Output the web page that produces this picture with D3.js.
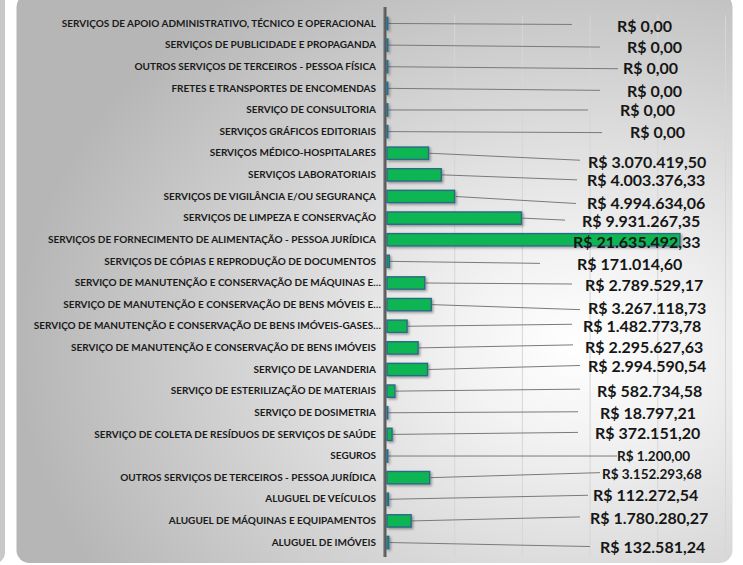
<!DOCTYPE html>
<html>
<head>
<meta charset="utf-8">
<script src="https://cdn.jsdelivr.net/npm/d3@7"></script>
<style>
	body { margin: 0; background: #fff; }
	svg { display: block; }
</style>
</head>
<body>
<svg id="chart" width="743" height="565"></svg>
<script>
var categories = [
	"SERVIÇOS DE APOIO ADMINISTRATIVO, TÉCNICO E OPERACIONAL",
	"SERVIÇOS DE PUBLICIDADE E PROPAGANDA",
	"OUTROS SERVIÇOS DE TERCEIROS - PESSOA FÍSICA",
	"FRETES E TRANSPORTES DE ENCOMENDAS",
	"SERVIÇO DE CONSULTORIA",
	"SERVIÇOS GRÁFICOS EDITORIAIS",
	"SERVIÇOS MÉDICO-HOSPITALARES",
	"SERVIÇOS LABORATORIAIS",
	"SERVIÇOS DE VIGILÂNCIA E/OU SEGURANÇA",
	"SERVIÇOS DE LIMPEZA E CONSERVAÇÃO",
	"SERVIÇOS DE FORNECIMENTO DE ALIMENTAÇÃO - PESSOA JURÍDICA",
	"SERVIÇOS DE CÓPIAS E REPRODUÇÃO DE DOCUMENTOS",
	"SERVIÇO DE MANUTENÇÃO E CONSERVAÇÃO DE MÁQUINAS E…",
	"SERVIÇO DE MANUTENÇÃO E CONSERVAÇÃO DE BENS MÓVEIS E…",
	"SERVIÇO DE MANUTENÇÃO E CONSERVAÇÃO DE BENS IMÓVEIS-GASES…",
	"SERVIÇO DE MANUTENÇÃO E CONSERVAÇÃO DE BENS IMÓVEIS",
	"SERVIÇO DE LAVANDERIA",
	"SERVIÇO DE ESTERILIZAÇÃO DE MATERIAIS",
	"SERVIÇO DE DOSIMETRIA",
	"SERVIÇO DE COLETA DE RESÍDUOS DE SERVIÇOS DE SAÚDE",
	"SEGUROS",
	"OUTROS SERVIÇOS DE TERCEIROS - PESSOA JURÍDICA",
	"ALUGUEL DE VEÍCULOS",
	"ALUGUEL DE MÁQUINAS E EQUIPAMENTOS",
	"ALUGUEL DE IMÓVEIS"
]

var values = [
	0, 0, 0, 0, 0, 0,
	3070419.50, 4003376.33, 4994634.06, 9931267.35, 21635492.33,
	171014.60, 2789529.17, 3267118.73, 1482773.78, 2295627.63,
	2994590.54, 582734.58, 18797.21, 372151.20, 1200.00,
	3152293.68, 112272.54, 1780280.27, 132581.24
]

var gridTicks = [5000000, 10000000, 15000000, 20000000, 25000000]

// where each data label was dragged to: [left x, dy of text, leader end x, dy of leader end]
var labelLayout = [
	[617, 3, 572, 1], [627, 2, 600, 2], [623, 2, 618, 2], [627, 3, 600, 2],
	[620, 0, 588, 0], [630, 1, 602, 1], [588, 9, 580, 7], [587, 5, 577, 5],
	[587, 7, 576, 7], [582, 3, 565, 2], [573, 2, null, 0], [577, 3, 540, 2],
	[585, 2, 572, 1], [588, 4, 580, 5], [583, 0, 572, -2], [585, -1, 573, -3],
	[588, -3, 580, -4], [597, 0, 580, -2], [600, 0, 578, -1], [595, -1, 578, -2],
	[617, 0, 617, 0], [602, -4, 600, -5], [593, -4, 588, -4], [590, -3, 580, -4],
	[600, 5, 590, 4]
]
var smallLabels = [20, 21]

var rows = categories.map((c, i) => ({
	cat: c,
	value: values[i],
	lay: labelLayout[i],
	small: smallLabels.includes(i)
}))

var svg = d3.select("#chart")
var defs = svg.append("defs")

var bg = defs.append("radialGradient")
	.attr("id", "bg")
	.attr("cx", 0.78).attr("cy", 0.62).attr("r", 0.78)
bg.append("stop").attr("offset", 0).attr("stop-color", "#ffffff")
bg.append("stop").attr("offset", 0.2).attr("stop-color", "#f3f3f3")
bg.append("stop").attr("offset", 0.65).attr("stop-color", "#d0d0d0")
bg.append("stop").attr("offset", 1).attr("stop-color", "#b6b6b6")

var shadow = defs.append("filter").attr("id", "shadow")
	.attr("x", "-10%").attr("y", "-30%").attr("width", "130%").attr("height", "180%")
shadow.append("feDropShadow")
	.attr("dx", 1.5).attr("dy", 1.5).attr("stdDeviation", 0.8)
	.attr("flood-color", "#000").attr("flood-opacity", 0.35)

// neighbouring panel on the left and the chart panel
svg.append("rect")
	.attr("x", -20).attr("y", -20).attr("width", 25).attr("height", 583)
	.attr("rx", 10).attr("fill", "#c8c8c8")
svg.append("rect")
	.attr("x", 16.5).attr("y", -6).attr("width", 716).attr("height", 569)
	.attr("rx", 13).attr("fill", "url(#bg)")

var x = d3.scaleLinear()
	.domain([0, 25000000])
	.range([387, 725.5])

var y = d3.scaleBand()
	.domain(categories)
	.range([8, 558])
	.padding(0.43)

var mid = d => y(d.cat) + y.bandwidth() / 2

var brl = d3.formatLocale({
	decimal: ",",
	thousands: ".",
	grouping: [3],
	currency: ["R$ ", ""]
}).format("$,.2f")

svg.append("g")
	.selectAll("line")
	.data(gridTicks)
	.join("line")
		.attr("x1", d => x(d)).attr("x2", d => x(d))
		.attr("y1", 15).attr("y2", 556)
		.attr("stroke", "#d6d6d6")
		.attr("stroke-width", 1)

// category axis
var yAxis = svg.append("g")
	.attr("transform", "translate(376,0)")
	.call(d3.axisLeft(y).tickSize(0).tickPadding(0))
yAxis.select(".domain").remove()
yAxis.selectAll("text")
	.attr("dx", d => d.slice(-1) == "…" ? 5 : 0)
	.attr("font-family", "Lato, 'Open Sans', sans-serif")
	.attr("font-weight", "bold")
	.attr("font-size", 10)
	.attr("fill", "#1a1a1a")

svg.append("rect")
	.attr("x", 383.5).attr("y", 7).attr("width", 3).attr("height", 550)
	.attr("fill", "#5a5a5a")
svg.append("line")
	.attr("x1", 383.8).attr("x2", 383.8).attr("y1", 7).attr("y2", 557)
	.attr("stroke", "#999").attr("stroke-width", 0.8)

// leader lines
svg.append("g")
	.selectAll("line")
	.data(rows.filter(d => d.lay[2] != null))
	.join("line")
		.attr("x1", d => x(d.value) + 1)
		.attr("y1", d => mid(d))
		.attr("x2", d => d.lay[2])
		.attr("y2", d => mid(d) + d.lay[3])
		.attr("stroke", "#7a7a7a")
		.attr("stroke-width", 1)

svg.append("g")
	.attr("filter", "url(#shadow)")
	.selectAll("rect")
	.data(rows)
	.join("rect")
		.attr("x", x(0))
		.attr("y", d => y(d.cat))
		.attr("width", d => Math.max(x(d.value) - x(0), 0.8))
		.attr("height", y.bandwidth())
		.attr("fill", "#0db552")
		.attr("stroke", "#2c6a86")
		.attr("stroke-width", 1.4)

svg.append("g")
	.selectAll("text")
	.data(rows)
	.join("text")
		.attr("x", d => d.lay[0])
		.attr("y", d => mid(d) + d.lay[1])
		.attr("dy", "0.36em")
		.attr("font-family", "Lato, 'Open Sans', sans-serif")
		.attr("font-weight", "bold")
		.attr("font-size", d => d.small ? 13.5 : 16)
		.attr("fill", "#161616")
		.text(d => brl(d.value))
</script>
</body>
</html>
